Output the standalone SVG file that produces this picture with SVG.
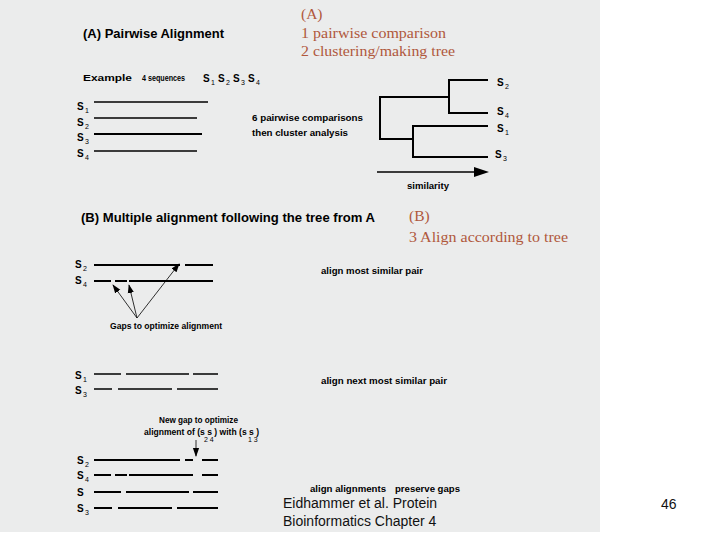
<svg xmlns="http://www.w3.org/2000/svg" width="720" height="540" viewBox="0 0 720 540">
<defs>
<style>
.h{font-family:"Liberation Sans",Arial,sans-serif;font-weight:bold;font-size:13px;fill:#000}
.s{font-family:"Liberation Sans",Arial,sans-serif;font-weight:bold;font-size:9px;fill:#000}
.lab{font-family:"Liberation Sans",Arial,sans-serif;font-weight:bold;font-size:10px;fill:#000}
.sub{font-family:"Liberation Sans",Arial,sans-serif;font-size:7px;fill:#000}
.red{font-family:"Liberation Serif","Times New Roman",serif;font-size:15.5px;fill:#b0583c}
.ft{font-family:"Liberation Sans",Arial,sans-serif;font-size:14px;fill:#111}
.seq{stroke:#000;stroke-width:2;fill:none}
.thin{stroke:#000;stroke-width:1.3;fill:none}
.tree{stroke:#000;stroke-width:2;fill:none}
.ptr{stroke:#000;stroke-width:0.8;fill:none}
</style>
<marker id="ah" viewBox="0 0 10 10" refX="9" refY="5" markerWidth="9" markerHeight="9" markerUnits="userSpaceOnUse" orient="auto">
<path d="M0,1.5 L10,5 L0,8.5 Z" fill="#000"/>
</marker>
</defs>
<rect x="0" y="0" width="720" height="540" fill="#fff"/>
<rect x="0" y="0" width="600" height="532" fill="#ebecec"/>

<g id="sectionA-title">
<text class="h" x="83" y="38" textLength="141" lengthAdjust="spacingAndGlyphs">(A) Pairwise Alignment</text>
</g>
<g id="noteA">
<text class="red" x="301" y="19">(A)</text>
<text class="red" x="301" y="38" textLength="145" lengthAdjust="spacingAndGlyphs">1 pairwise comparison</text>
<text class="red" x="301" y="56" textLength="154" lengthAdjust="spacingAndGlyphs">2 clustering/making tree</text>
</g>
<g id="example">
<text class="s" x="83" y="81" textLength="49" lengthAdjust="spacingAndGlyphs">Example</text>
<text class="s" x="142" y="81" textLength="43" lengthAdjust="spacingAndGlyphs">4 sequences</text>
<text class="lab" x="203" y="82">S</text><text class="sub" x="211" y="85">1</text>
<text class="lab" x="218" y="82">S</text><text class="sub" x="226" y="85">2</text>
<text class="lab" x="233" y="82">S</text><text class="sub" x="241" y="85">3</text>
<text class="lab" x="248" y="82">S</text><text class="sub" x="256" y="85">4</text>
</g>
<g id="seqsA">
<text class="lab" x="77" y="110">S</text><text class="sub" x="85" y="113">1</text>
<text class="lab" x="77" y="126">S</text><text class="sub" x="85" y="129">2</text>
<text class="lab" x="77" y="141">S</text><text class="sub" x="85" y="144">3</text>
<text class="lab" x="77" y="157">S</text><text class="sub" x="85" y="160">4</text>
<line class="thin" x1="94" y1="102" x2="208" y2="102"/>
<line class="thin" x1="94" y1="118" x2="197" y2="118"/>
<line class="seq" x1="94" y1="134" x2="202" y2="134"/>
<line class="thin" x1="94" y1="151" x2="197" y2="151"/>
</g>
<g id="cmpNote">
<text class="s" x="252" y="121" textLength="111" lengthAdjust="spacingAndGlyphs">6 pairwise comparisons</text>
<text class="s" x="252" y="136" textLength="96" lengthAdjust="spacingAndGlyphs">then cluster analysis</text>
</g>
<g id="tree">
<path class="tree" d="M488,80 H449 V113 H488 M449,97 H380 V139 H413 M488,126 H413 V157 H488"/>
<text class="lab" x="497" y="86">S</text><text class="sub" x="505" y="89">2</text>
<text class="lab" x="497" y="115">S</text><text class="sub" x="505" y="118">4</text>
<text class="lab" x="497" y="132">S</text><text class="sub" x="505" y="135">1</text>
<text class="lab" x="495" y="158">S</text><text class="sub" x="503" y="161">3</text>
</g>
<g id="similarity">
<line x1="377" y1="172" x2="476" y2="172" stroke="#000" stroke-width="1.3"/>
<path d="M474,167 L489,172 L474,177 Z" fill="#000"/>
<text class="s" x="407" y="189" textLength="42" lengthAdjust="spacingAndGlyphs">similarity</text>
</g>

<g id="sectionB-title">
<text class="h" x="81" y="222" textLength="294" lengthAdjust="spacingAndGlyphs">(B) Multiple alignment following the tree from A</text>
</g>
<g id="noteB">
<text class="red" x="409" y="221">(B)</text>
<text class="red" x="409" y="242" textLength="159" lengthAdjust="spacingAndGlyphs">3 Align according to tree</text>
</g>
<g id="pair1">
<text class="lab" x="75" y="268">S</text><text class="sub" x="83" y="271">2</text>
<text class="lab" x="75" y="284">S</text><text class="sub" x="83" y="287">4</text>
<path class="seq" d="M94,265 H180 M185,265 H213"/>
<path class="seq" d="M94,281 H111 M115,281 H127 M129,281 H213"/>
<text class="s" x="321" y="274" textLength="102" lengthAdjust="spacingAndGlyphs">align most similar pair</text>
</g>
<g id="connectors">
<line class="ptr" x1="137" y1="318" x2="113" y2="285" marker-end="url(#ah)"/>
<line class="ptr" x1="137" y1="318" x2="129" y2="285" marker-end="url(#ah)"/>
<line class="ptr" x1="137" y1="318" x2="179" y2="264" marker-end="url(#ah)"/>
<line class="ptr" x1="196" y1="440" x2="196" y2="456" marker-end="url(#ah)"/>
</g>
<g id="gapsNote">
<text class="s" x="110" y="329" textLength="112" lengthAdjust="spacingAndGlyphs">Gaps to optimize alignment</text>
</g>
<g id="pair2">
<text class="lab" x="75" y="379">S</text><text class="sub" x="83" y="382">1</text>
<text class="lab" x="75" y="394">S</text><text class="sub" x="83" y="397">3</text>
<path class="thin" d="M94,374 H121 M126,374 H189 M193,374 H218"/>
<path class="thin" d="M94,389 H112 M118,389 H172 M177,389 H218"/>
<text class="s" x="321" y="384" textLength="126" lengthAdjust="spacingAndGlyphs">align next most similar pair</text>
</g>
<g id="newGapNote">
<text class="s" x="159" y="423" textLength="79" lengthAdjust="spacingAndGlyphs">New gap to optimize</text>
<text class="s" x="144" y="435" textLength="115" lengthAdjust="spacingAndGlyphs">alignment of (s s ) with (s s )</text>
<text class="sub" x="204" y="442" font-size="6">2  4</text>
<text class="sub" x="248" y="442" font-size="6">1  3</text>
</g>
<g id="final">
<text class="lab" x="77" y="464">S</text><text class="sub" x="85" y="467">2</text>
<text class="lab" x="77" y="479">S</text><text class="sub" x="85" y="482">4</text>
<text class="lab" x="77" y="496">S</text>
<text class="lab" x="77" y="512">S</text><text class="sub" x="85" y="515">3</text>
<path class="seq" d="M94,460 H180 M185,460 H193 M202,460 H218"/>
<path class="seq" d="M94,475 H111 M115,475 H127 M129,475 H193 M202,475 H218"/>
<path class="seq" d="M94,492 H121 M126,492 H189 M193,492 H218"/>
<path class="seq" d="M94,508 H112 M118,508 H172 M177,508 H218"/>
<text class="s" x="310" y="492" textLength="76" lengthAdjust="spacingAndGlyphs">align alignments</text>
<text class="s" x="395" y="492" textLength="65" lengthAdjust="spacingAndGlyphs">preserve gaps</text>
</g>
<g id="footer">
<text class="ft" x="283" y="508">Eidhammer et al. Protein</text>
<text class="ft" x="283" y="526">Bioinformatics Chapter 4</text>
<text class="ft" x="661" y="509">46</text>
</g>
</svg>
